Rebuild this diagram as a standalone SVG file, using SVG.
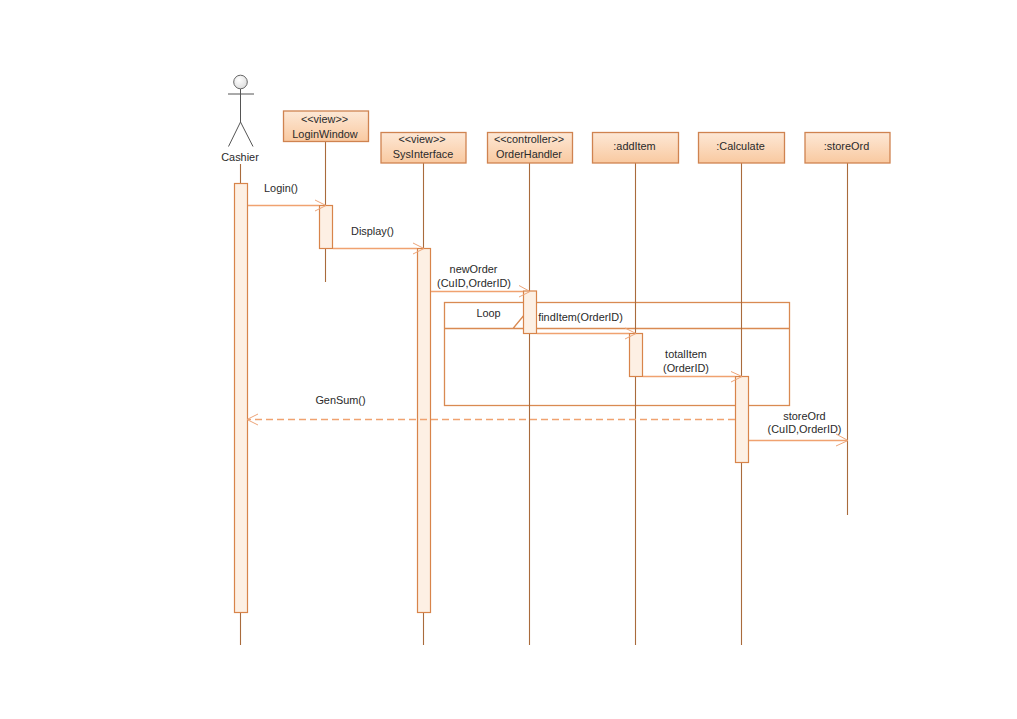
<svg xmlns="http://www.w3.org/2000/svg" width="1017" height="719" viewBox="0 0 1017 719">
<style>
text{font-family:"Liberation Sans",Arial,sans-serif;font-size:10.9px;fill:#2a2a2a;text-anchor:middle}
.box{fill:url(#hd);stroke:#cf8350;stroke-width:1.3}
.life{stroke:#a96b3c;stroke-width:1.1;fill:none}
.act{fill:#fdf0e4;stroke:#d8844a;stroke-width:1.2}
.msg{stroke:#f0a270;stroke-width:1.3;fill:none}
.head{stroke:#eda478;stroke-width:1;fill:none}
.frame{stroke:#d98a52;stroke-width:1.3;fill:none}
.actor{stroke:#555;stroke-width:1;fill:none}
</style>
<defs>
<linearGradient id="hd" x1="0" y1="0" x2="0" y2="1"><stop offset="0" stop-color="#fde8d6"/><stop offset="1" stop-color="#f9c9a0"/></linearGradient>
<radialGradient id="hg" cx="0.4" cy="0.35" r="0.7"><stop offset="0" stop-color="#fff"/><stop offset="1" stop-color="#dcdcdc"/></radialGradient>
</defs>
<rect width="1017" height="719" fill="#fff"/>
<g id="frame-loop">
<rect class="frame" x="444.500" y="302.500" width="345" height="103"/>
<path class="frame" d="M444.500 328.500H789.500M513 328.500L525 314"/>
<text x="488.500" y="317">Loop</text>
</g>
<g id="cashier">
<circle cx="240.500" cy="82" r="6.800" fill="url(#hg)" stroke="#666" stroke-width="1"/>
<path class="actor" d="M240.500 89V122M228 94H254M240.500 122L228.500 146.500M240.500 122L253 146.500"/>
<text x="240" y="161">Cashier</text>
<path class="life" d="M240.500 164V645"/>
<rect class="act" x="234.500" y="183.500" width="13" height="429"/>
</g>
<g id="loginwindow">
<path class="life" d="M325.500 141V282"/>
<rect class="box" x="283.500" y="111" width="85" height="30.500"/>
<text x="324.500" y="123">&lt;&lt;view&gt;&gt;</text>
<text x="325" y="137.500">LoginWindow</text>
<rect class="act" x="319.500" y="205.500" width="13" height="43"/>
</g>
<g id="sysinterface">
<path class="life" d="M423.500 163V645"/>
<rect class="box" x="381" y="132.500" width="85" height="30.500"/>
<text x="422" y="143">&lt;&lt;view&gt;&gt;</text>
<text x="423" y="158">SysInterface</text>
<rect class="act" x="417.500" y="248.500" width="13" height="364"/>
</g>
<g id="orderhandler">
<path class="life" d="M529.500 163V645"/>
<rect class="box" x="487.500" y="132.500" width="85" height="30.500"/>
<text x="529" y="143">&lt;&lt;controller&gt;&gt;</text>
<text x="529" y="158">OrderHandler</text>
<rect class="act" x="523.500" y="291" width="13" height="42.500"/>
</g>
<g id="additem">
<path class="life" d="M635.500 163V645"/>
<rect class="box" x="592.500" y="132.500" width="86" height="30.500"/>
<text x="634.500" y="150">:addItem</text>
<rect class="act" x="629.500" y="333.500" width="13" height="43"/>
</g>
<g id="calculate">
<path class="life" d="M741.500 163V645"/>
<rect class="box" x="698.500" y="132.500" width="86" height="30.500"/>
<text x="740.500" y="150">:Calculate</text>
<rect class="act" x="735.500" y="376.500" width="13" height="86"/>
</g>
<g id="storeord">
<path class="life" d="M847.500 163V515"/>
<rect class="box" x="805" y="132.500" width="85" height="30.500"/>
<text x="846.500" y="150">:storeOrd</text>
</g>
<g id="connectors">
<path class="msg" d="M248 205.500H319"/><path class="head" d="M315 200L326 205.500L315 211"/>
<text x="281" y="192">Login()</text>
<path class="msg" d="M333 248.500H417"/><path class="head" d="M413 243L424 248.500L413 254"/>
<text x="372.500" y="235">Display()</text>
<path class="msg" d="M431 291.500H523"/><path class="head" d="M519 285.500L530 291.500L519 297"/>
<text x="473.500" y="272.500">newOrder</text>
<text x="474" y="287">(CuID,OrderID)</text>
<path class="msg" d="M537 333.500H629"/><path class="head" d="M625 328L636 333.500L625 339"/>
<text x="580.500" y="321">findItem(OrderID)</text>
<path class="msg" d="M643 376.500H735"/><path class="head" d="M731 371.500L742 376.500L731 382"/>
<text x="686" y="358">totalItem</text>
<text x="686" y="372">(OrderID)</text>
<path class="msg" d="M735 419.500H248" stroke-dasharray="7 4"/><path class="head" d="M258 414L247 419.500L258 425"/>
<text x="340.500" y="404">GenSum()</text>
<path class="msg" d="M749 440.500H847"/><path class="head" d="M836 434L848 440.500L836 446"/>
<text x="804.500" y="420">storeOrd</text>
<text x="804.500" y="433">(CuID,OrderID)</text>
</g>
</svg>
